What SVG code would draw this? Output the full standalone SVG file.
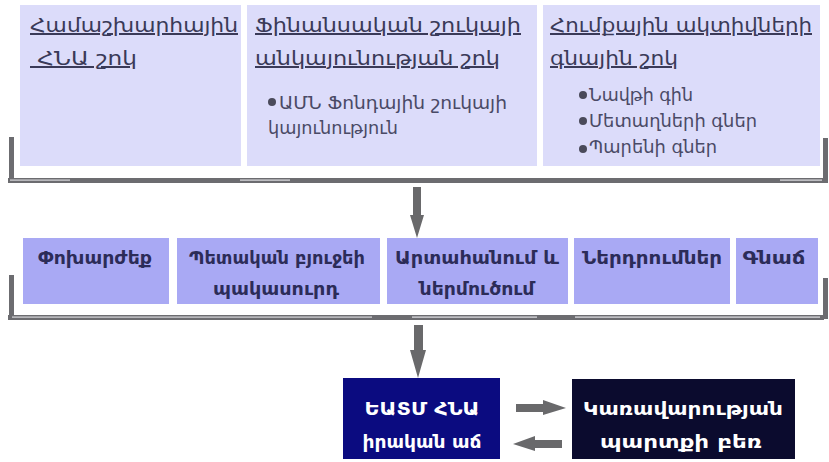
<svg xmlns="http://www.w3.org/2000/svg" width="829" height="462" viewBox="0 0 829 462">
<defs>
<style>
.top{fill:#dcdcfa}
.mid{fill:#a9a9f4}
.hd{font-family:"DejaVu Sans",sans-serif;font-size:20px;fill:#3a3a58;text-decoration:underline;white-space:pre}
.bl{font-family:"DejaVu Sans",sans-serif;font-size:17px;fill:#4a4a66}
.mt{font-family:"DejaVu Sans",sans-serif;font-size:17px;font-weight:bold;fill:#2c2c58;text-anchor:middle}
.bt{font-family:"DejaVu Sans",sans-serif;font-size:18px;font-weight:bold;fill:#ffffff;text-anchor:middle}
.dot{fill:#4a4a5a}
.bar{fill:#6c6c70}
.arr{fill:#69696b}
</style>
</defs>
<rect width="829" height="462" fill="#ffffff"/>

<g id="brackets">
<rect class="bar" x="9" y="137" width="5" height="45"/>
<rect class="bar" x="8" y="178" width="816" height="5"/>
<rect x="10" y="179.5" width="60" height="1.2" fill="#d8d8dc"/>
<rect x="240" y="179.5" width="50" height="1.2" fill="#e0e0e4"/>
<rect x="780" y="179.5" width="42" height="1.2" fill="#e0e0e4"/>
<rect class="bar" x="823" y="138" width="5" height="45"/>

<rect class="bar" x="9" y="275" width="5" height="44"/>
<rect class="bar" x="8" y="315" width="816" height="5"/>
<rect x="12" y="316.5" width="360" height="1.2" fill="#d8d8dc"/>
<rect x="412" y="316.5" width="125" height="1.2" fill="#e4e4e8"/>
<rect x="575" y="316.5" width="245" height="1.2" fill="#e4e4e8"/>
<rect class="bar" x="823" y="278" width="5" height="41"/>
</g>

<g id="connectors">
<polygon class="arr" points="413,187 421,187 421,215 424,215 417,238 410,215 413,215"/>
<polygon class="arr" points="414,325 423,325 423,350 426,350 418,378 410,350 414,350"/>
<polygon class="arr" points="516,404 543,404 543,400 566,408 543,415 543,412 516,412"/>
<polygon class="arr" points="562,440 535,440 535,436 513,444 535,451 535,448 562,448"/>
</g>

<g id="n-global">
<rect class="top" x="20" y="5" width="221" height="161"/>
<text class="hd" x="30" y="32" textLength="208" lengthAdjust="spacingAndGlyphs">Համաշխարհային</text>
<text class="hd" x="30" y="65" textLength="107" lengthAdjust="spacingAndGlyphs"> ՀՆԱ շոկ</text>
</g>

<g id="n-financial">
<rect class="top" x="247" y="5" width="290" height="161"/>
<text class="hd" x="255" y="32" textLength="266" lengthAdjust="spacingAndGlyphs">Ֆինանսական շուկայի</text>
<text class="hd" x="255" y="65" textLength="245" lengthAdjust="spacingAndGlyphs">անկայունության շոկ</text>
<circle class="dot" cx="272" cy="102" r="4"/>
<text class="bl" x="279" y="109" textLength="228" lengthAdjust="spacingAndGlyphs">ԱՄՆ Ֆոնդային շուկայի</text>
<text class="bl" x="268" y="134" textLength="130" lengthAdjust="spacingAndGlyphs">կայունություն</text>
</g>

<g id="n-commodity">
<rect class="top" x="543" y="5" width="277" height="161"/>
<text class="hd" x="550" y="32" textLength="262" lengthAdjust="spacingAndGlyphs">Հումքային ակտիվների</text>
<text class="hd" x="550" y="65" textLength="128" lengthAdjust="spacingAndGlyphs">գնային շոկ</text>
<circle class="dot" cx="583" cy="95" r="4"/>
<text class="bl" x="589" y="101" textLength="104" lengthAdjust="spacingAndGlyphs">Նավթի գին</text>
<circle class="dot" cx="583" cy="121" r="4"/>
<text class="bl" x="589" y="127" textLength="168" lengthAdjust="spacingAndGlyphs">Մետաղների գներ</text>
<circle class="dot" cx="583" cy="149" r="4"/>
<text class="bl" x="589" y="153" textLength="128" lengthAdjust="spacingAndGlyphs">Պարենի գներ</text>
</g>

<g id="n-exchange">
<rect class="mid" x="23" y="238" width="146" height="66"/>
<text class="mt" x="95" y="264" textLength="114" lengthAdjust="spacingAndGlyphs">Փոխարժեք</text>
</g>

<g id="n-budget">
<rect class="mid" x="177" y="238" width="203" height="66"/>
<text class="mt" x="277" y="264" textLength="176" lengthAdjust="spacingAndGlyphs">Պետական բյուջեի</text>
<text class="mt" x="276" y="295" textLength="126" lengthAdjust="spacingAndGlyphs">պակասուրդ</text>
</g>

<g id="n-trade">
<rect class="mid" x="387" y="238" width="181" height="66"/>
<text class="mt" x="477" y="264" textLength="164" lengthAdjust="spacingAndGlyphs">Արտահանում և</text>
<text class="mt" x="477" y="295" textLength="115" lengthAdjust="spacingAndGlyphs">ներմուծում</text>
</g>

<g id="n-invest">
<rect class="mid" x="574" y="238" width="156" height="66"/>
<text class="mt" x="652" y="264" textLength="140" lengthAdjust="spacingAndGlyphs">Ներդրումներ</text>
</g>

<g id="n-inflation">
<rect class="mid" x="736" y="238" width="82" height="66"/>
<text class="mt" x="774" y="264" textLength="63" lengthAdjust="spacingAndGlyphs">Գնաճ</text>
</g>

<g id="n-gdp">
<rect x="343" y="378" width="157" height="81" fill="#0b0b80"/>
<text class="bt" x="422" y="415" textLength="115" lengthAdjust="spacingAndGlyphs">ԵԱՏՄ ՀՆԱ</text>
<text class="bt" x="422" y="448" textLength="119" lengthAdjust="spacingAndGlyphs">իրական աճ</text>
</g>

<g id="n-debt">
<rect x="572" y="379" width="223" height="80" fill="#0b0b2e"/>
<text class="bt" x="683" y="415" textLength="200" lengthAdjust="spacingAndGlyphs">Կառավարության</text>
<text class="bt" x="681" y="448" textLength="162" lengthAdjust="spacingAndGlyphs">պարտքի բեռ</text>
</g>
</svg>
